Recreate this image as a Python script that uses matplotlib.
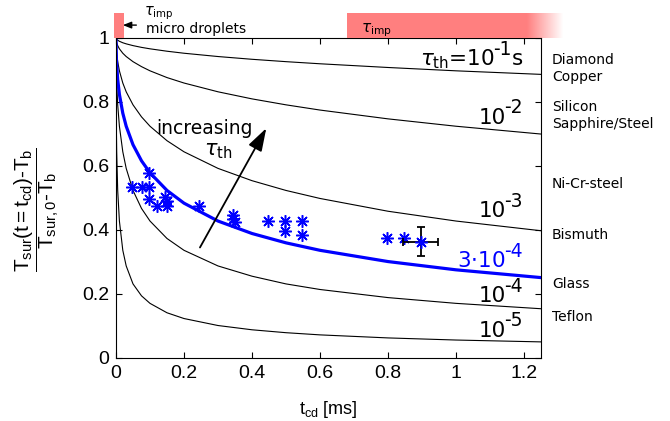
import numpy as np
import matplotlib
matplotlib.use("Agg")
import matplotlib.pyplot as plt
from matplotlib.patches import Rectangle

plt.rcParams['font.family'] = 'DejaVu Sans'
plt.rcParams['mathtext.fontset'] = 'custom'
plt.rcParams['mathtext.rm'] = 'Liberation Sans'
plt.rcParams['mathtext.it'] = 'Liberation Sans'
plt.rcParams['mathtext.bf'] = 'Liberation Sans:bold'

# time axis of the model curves [ms]
t_model = [0, 0.001, 0.002, 0.005, 0.01, 0.02, 0.03, 0.05, 0.075, 0.1,
           0.15, 0.2, 0.3, 0.4, 0.5, 0.6, 0.8, 1.0, 1.25]

# model curves, one per tau_th
curve_1e1 = [1, 0.9964, 0.9950, 0.9921, 0.9888, 0.9842, 0.9808, 0.9753, 0.9698, 0.9653,
             0.9578, 0.9515, 0.9412, 0.9326, 0.9252, 0.9186, 0.9070, 0.8966, 0.8855]
curve_1e2 = [1, 0.9888, 0.9842, 0.9753, 0.9653, 0.9515, 0.9412, 0.9252, 0.9097, 0.8966,
             0.8755, 0.8585, 0.8311, 0.8090, 0.7904, 0.7741, 0.7466, 0.7236, 0.6992]
curve_1e3 = [1, 0.9653, 0.9515, 0.9252, 0.8966, 0.8585, 0.8311, 0.7904, 0.7529, 0.7236,
             0.6784, 0.6438, 0.5920, 0.5536, 0.5231, 0.4981, 0.4582, 0.4276, 0.3973]
curve_3e4 = [1, 0.9382, 0.9145, 0.8695, 0.8232, 0.7643, 0.7236, 0.6659, 0.6157, 0.5781,
             0.5231, 0.4834, 0.4276, 0.3887, 0.3595, 0.3362, 0.3011, 0.2753, 0.2510]
curve_1e4 = [1, 0.8966, 0.8585, 0.7904, 0.7236, 0.6438, 0.5920, 0.5231, 0.4670, 0.4276,
             0.3731, 0.3362, 0.2874, 0.2554, 0.2313, 0.2139, 0.1886, 0.1706, 0.1538]
curve_1e5 = [1, 0.7236, 0.6438, 0.5231, 0.4276, 0.3362, 0.2874, 0.2313, 0.1941, 0.1706,
             0.1412, 0.1232, 0.1014, 0.0881, 0.0790, 0.0722, 0.0627, 0.0561, 0.0503]

# measurements
t_meas = [0.046, 0.076, 0.098, 0.098, 0.098, 0.12, 0.144, 0.149, 0.149, 0.245,
          0.345, 0.345, 0.35, 0.448, 0.497, 0.497, 0.548, 0.548, 0.798, 0.847]
T_meas = [0.535, 0.535, 0.535, 0.579, 0.496, 0.475, 0.504, 0.489, 0.473, 0.476,
          0.445, 0.435, 0.425, 0.428, 0.428, 0.398, 0.429, 0.383, 0.374, 0.376]
t_err_pt, T_err_pt = 0.896, 0.363
t_err, T_err = 0.052, 0.045

# curve labels: (base, exponent, y)
curve_labels = [('10', '-2', 0.731), ('10', '-3', 0.44), ('10', '-4', 0.175), ('10', '-5', 0.066)]
materials = ['Diamond\nCopper', 'Silicon\nSapphire/Steel', 'Ni-Cr-steel', 'Bismuth', 'Glass', 'Teflon']
material_y = [0.904, 0.758, 0.543, 0.385, 0.232, 0.128]

fig = plt.figure(figsize=(6.7, 4.21), dpi=100)
L, R, B, T = 116/670, 541/670, 1-358/421, 1-37.7/421
ax = fig.add_axes([L, B, R-L, T-B])

for c in [curve_1e1, curve_1e2, curve_1e3, curve_1e4, curve_1e5]:
    ax.plot(t_model, c, color='black', lw=0.8)
ax.plot(t_model, curve_3e4, color='#0000ff', lw=2.3)

ax.plot(t_meas, T_meas, ls='none', marker=(8, 2, 0), ms=9, mew=1.1, color='#0000ff')
ax.errorbar([t_err_pt], [T_err_pt], xerr=[t_err], yerr=[T_err], fmt='none',
            ecolor='black', elinewidth=1.3, capsize=3, capthick=1.3)
ax.plot([t_err_pt], [T_err_pt], ls='none', marker=(8, 2, 0), ms=9, mew=1.1, color='#0000ff')

ax.set_xlim(0, 1.25)
ax.set_ylim(0, 1)
ax.set_xticks([0, 0.2, 0.4, 0.6, 0.8, 1, 1.2])
ax.set_xticklabels(['0', '0.2', '0.4', '0.6', '0.8', '1', '1.2'])
ax.set_yticks([0, 0.2, 0.4, 0.6, 0.8, 1])
ax.set_yticklabels(['0', '0.2', '0.4', '0.6', '0.8', '1'])
ax.tick_params(direction='in', top=True, right=True, length=4, width=0.8,
               labelsize=14, pad=5)
for lab in ax.get_xticklabels() + ax.get_yticklabels():
    lab.set_family('Liberation Sans')
for s in ax.spines.values():
    s.set_linewidth(0.8)


def power_label(x, y, base, expo, suffix='', color='black', size=15.5, esize=13.5):
    # base, raised exponent and optional suffix, right aligned at (x, y)
    w_suf = 0.55 * size if suffix else 0
    w_exp = 0.88 * esize
    if suffix:
        ax.annotate(suffix, (x, y), xytext=(0, 0), textcoords='offset points',
                    ha='right', va='baseline', fontsize=size, color=color)
    ax.annotate(expo, (x, y), xytext=(-w_suf, 7.5), textcoords='offset points',
                ha='right', va='baseline', fontsize=esize, color=color)
    ax.annotate(base, (x, y), xytext=(-w_suf - w_exp, 0), textcoords='offset points',
                ha='right', va='baseline', fontsize=size, color=color,
                math_fontfamily='dejavusans')


power_label(1.197, 0.915, r'$\tau_{\rm th}$=10', '-1', suffix='s')
for base, expo, y in curve_labels:
    power_label(1.195, y, base, expo)
power_label(1.195, 0.284, r'3$\cdot$10', '-4', color='#0000ff')

for lab, y in zip(materials, material_y):
    ax.text(1.282, y, lab, fontsize=10, ha='left', va='center', clip_on=False,
            linespacing=1.3)

# increasing arrow
ax.text(0.259, 0.70, 'increasing', fontsize=13.5, ha='center', va='baseline')
ax.text(0.30, 0.633, r'$\tau_{\rm th}$', fontsize=15, ha='center', va='baseline',
        math_fontfamily='dejavusans')
ax.annotate('', xy=(0.446, 0.725), xytext=(0.243, 0.3375),
            arrowprops=dict(arrowstyle='-|>,head_length=1.4,head_width=0.45',
                            color='black', lw=1.3))

# tau_imp strip above the axes
ax2 = fig.add_axes([L, T, R-L, 25.2/421])
ax2.set_xlim(0, 1.25)
ax2.set_ylim(0, 1)
ax2.axis('off')
red = '#ff7f7f'
ax2.add_patch(Rectangle((-0.006, 0), 0.03, 1, color=red, lw=0, clip_on=False))
ax2.add_patch(Rectangle((0.679, 0), 0.53, 1, color=red, lw=0, clip_on=False,
                        antialiased=False))
n_fade = 36
fade_x = np.linspace(1.209, 1.315, n_fade + 1)
for i in range(n_fade):
    ax2.add_patch(Rectangle((fade_x[i], 0), fade_x[i+1] - fade_x[i], 1,
                            color=red, lw=0, alpha=1 - (i + 0.5) / n_fade,
                            clip_on=False, antialiased=False))
ax2.text(0.72, 0.2, r'$\tau_{\rm imp}$', fontsize=11, ha='left', va='baseline',
         math_fontfamily='dejavusans')
ax2.text(0.087, 0.17, 'micro droplets', fontsize=10, ha='left', va='baseline')
ax2.text(0.082, 0.9, r'$\tau_{\rm imp}$', fontsize=10.5, ha='left', va='baseline',
         math_fontfamily='dejavusans', clip_on=False)
ax2.annotate('', xy=(0.012, 0.5), xytext=(0.068, 0.5),
             arrowprops=dict(arrowstyle='-|>,head_length=0.5,head_width=0.2',
                             color='black', lw=1.0), annotation_clip=False)

# axis labels
fig.text(37/670, 1-210/421,
         r'$\dfrac{T_{sur}(t=t_{cd})\text{-}T_b}{T_{sur,0}\text{-}T_b}$',
         rotation=90, ha='center', va='center', fontsize=15)
fig.text(328/670, 1-410/421, r'$\mathrm{t_{cd}}$ [ms]', ha='center', va='center',
         fontsize=13, family='Liberation Sans')

fig.savefig('out.png', dpi=100)
